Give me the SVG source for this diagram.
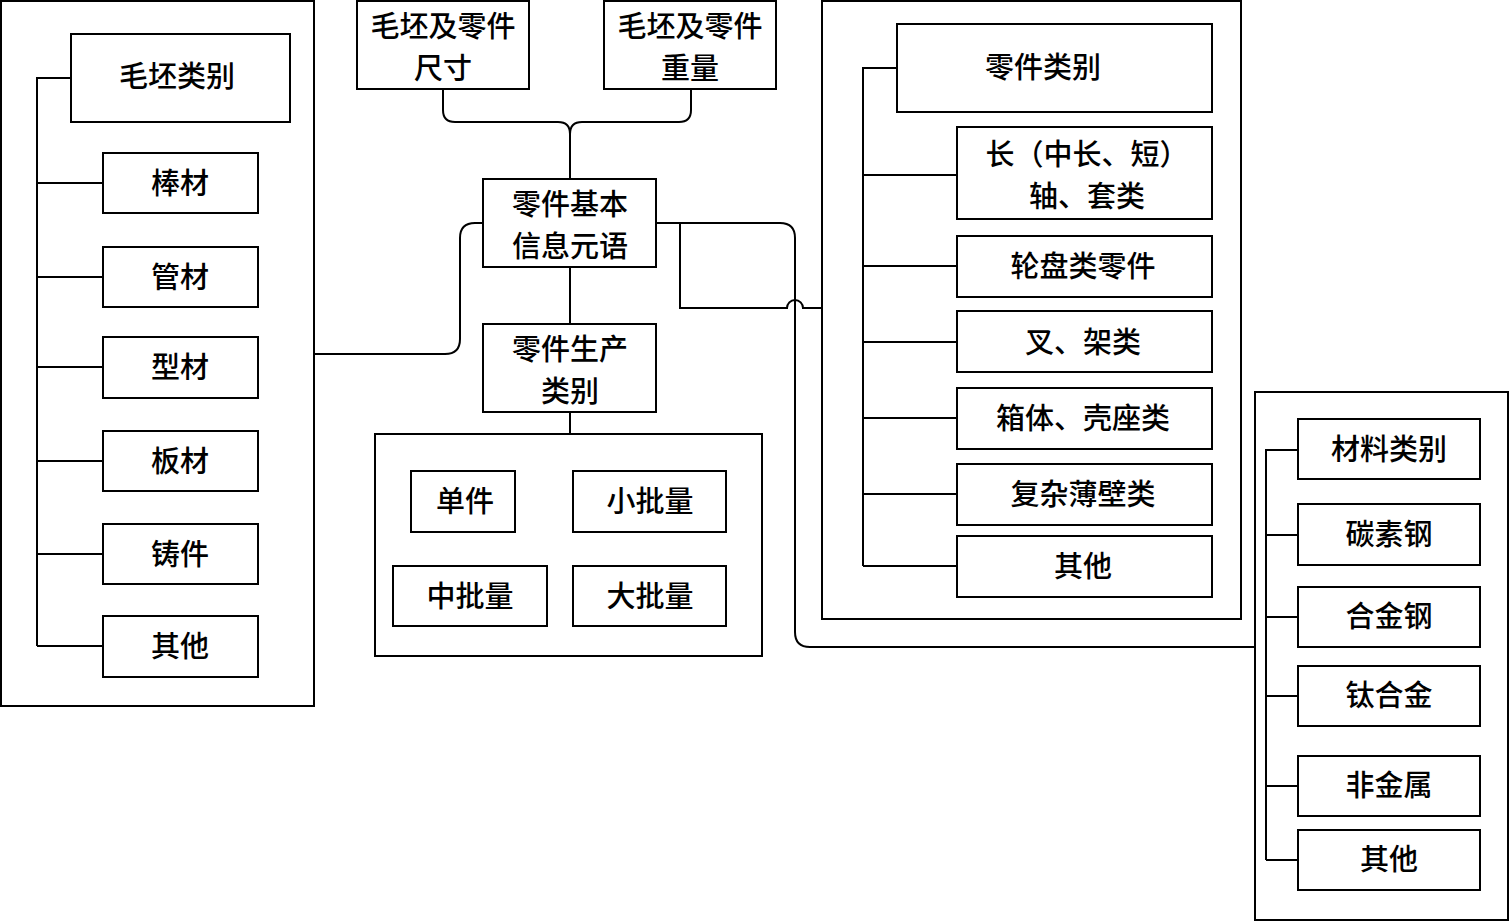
<svg xmlns="http://www.w3.org/2000/svg" width="1511" height="923" viewBox="0 0 1511 923">
<style>
rect{fill:#fff;stroke:#000;stroke-width:2}
rect.outer{fill:none}
rect.bg{fill:#fff;stroke:none}
text{font-family:"Noto Sans CJK SC","Liberation Sans",sans-serif;font-size:29px;font-weight:500;text-anchor:middle;dominant-baseline:central;fill:#000}
#connectors path{fill:none;stroke:#000;stroke-width:2}
</style>
<rect class="bg" width="1511" height="923"/>
<!-- outer frames -->
<g id="frame-blank"><rect class="outer" x="1" y="1" width="313" height="705"/></g>
<g id="frame-part"><rect class="outer" x="822" y="1" width="419" height="618"/></g>
<g id="frame-material"><rect class="outer" x="1255" y="392" width="253" height="528"/></g>
<g id="frame-production"><rect class="outer" x="375" y="434" width="387" height="222"/></g>

<g id="connectors">
<!-- top merge -->
<path d="M443,89 V110 Q443,122 455,122 H558 Q570,122 570,134 M691,89 V110 Q691,122 679,122 H582 Q570,122 570,134 V179"/>
<!-- center to production -->
<path d="M570,267 V324 M570,412 V434"/>
<!-- center to left frame -->
<path d="M483,223 H475 Q460,223 460,238 V339 Q460,354 445,354 H314"/>
<!-- center to material frame -->
<path d="M656,223 H780 Q795,223 795,238 V632 Q795,647 810,647 H1255"/>
<!-- center to part frame with hop -->
<path d="M680,223 V308 H787 A8,8 0 0 1 803,308 H822"/>
<!-- left tree -->
<path d="M71,78 H37 V646 M37,183 H103 M37,277 H103 M37,367 H103 M37,461 H103 M37,554 H103 M37,646 H103"/>
<!-- part tree -->
<path d="M897,68 H863 V566 M863,175 H957 M863,266 H957 M863,342 H957 M863,418 H957 M863,494 H957 M863,566 H957"/>
<!-- material tree -->
<path d="M1298,450 H1266 V860 M1266,535 H1298 M1266,617 H1298 M1266,696 H1298 M1266,786 H1298 M1266,860 H1298"/>
</g>

<g id="size"><rect x="357" y="1" width="172" height="88"/><text x="443" y="24">毛坯及零件</text><text x="443" y="66">尺寸</text></g>
<g id="weight"><rect x="604" y="1" width="172" height="88"/><text x="690" y="24">毛坯及零件</text><text x="690" y="66">重量</text></g>
<g id="basic"><rect x="483" y="179" width="173" height="88"/><text x="570" y="202">零件基本</text><text x="570" y="244">信息元语</text></g>
<g id="prodtype"><rect x="483" y="324" width="173" height="88"/><text x="570" y="347">零件生产</text><text x="570" y="389">类别</text></g>

<g id="p-single"><rect x="411" y="471" width="104" height="61"/><text x="465" y="499">单件</text></g>
<g id="p-small"><rect x="573" y="471" width="153" height="61"/><text x="650" y="499">小批量</text></g>
<g id="p-medium"><rect x="393" y="566" width="154" height="60"/><text x="470" y="594">中批量</text></g>
<g id="p-large"><rect x="573" y="566" width="153" height="60"/><text x="650" y="594">大批量</text></g>

<g id="blank-type"><rect x="71" y="34" width="219" height="88"/><text x="177" y="74">毛坯类别</text></g>
<g id="b-bar"><rect x="103" y="153" width="155" height="60"/><text x="180" y="181">棒材</text></g>
<g id="b-tube"><rect x="103" y="247" width="155" height="60"/><text x="180" y="275">管材</text></g>
<g id="b-profile"><rect x="103" y="337" width="155" height="61"/><text x="180" y="365">型材</text></g>
<g id="b-plate"><rect x="103" y="431" width="155" height="60"/><text x="180" y="459">板材</text></g>
<g id="b-cast"><rect x="103" y="524" width="155" height="60"/><text x="180" y="552">铸件</text></g>
<g id="b-other"><rect x="103" y="616" width="155" height="61"/><text x="180" y="644">其他</text></g>

<g id="part-type"><rect x="897" y="24" width="315" height="88"/><text x="1043" y="65">零件类别</text></g>
<g id="pt-shaft"><rect x="957" y="127" width="255" height="92"/><text x="1087" y="152">长（中长、短）</text><text x="1087" y="194">轴、套类</text></g>
<g id="pt-disc"><rect x="957" y="236" width="255" height="61"/><text x="1083" y="264">轮盘类零件</text></g>
<g id="pt-fork"><rect x="957" y="311" width="255" height="61"/><text x="1083" y="340">叉、架类</text></g>
<g id="pt-box"><rect x="957" y="388" width="255" height="61"/><text x="1083" y="416">箱体、壳座类</text></g>
<g id="pt-thin"><rect x="957" y="464" width="255" height="61"/><text x="1083" y="492">复杂薄壁类</text></g>
<g id="pt-other"><rect x="957" y="536" width="255" height="61"/><text x="1083" y="564">其他</text></g>

<g id="mat-type"><rect x="1298" y="419" width="182" height="60"/><text x="1389" y="447">材料类别</text></g>
<g id="m-carbon"><rect x="1298" y="504" width="182" height="61"/><text x="1389" y="532">碳素钢</text></g>
<g id="m-alloy"><rect x="1298" y="587" width="182" height="60"/><text x="1389" y="614">合金钢</text></g>
<g id="m-ti"><rect x="1298" y="666" width="182" height="60"/><text x="1389" y="693">钛合金</text></g>
<g id="m-nonmetal"><rect x="1298" y="756" width="182" height="60"/><text x="1389" y="783">非金属</text></g>
<g id="m-other"><rect x="1298" y="830" width="182" height="60"/><text x="1389" y="857">其他</text></g>
</svg>
